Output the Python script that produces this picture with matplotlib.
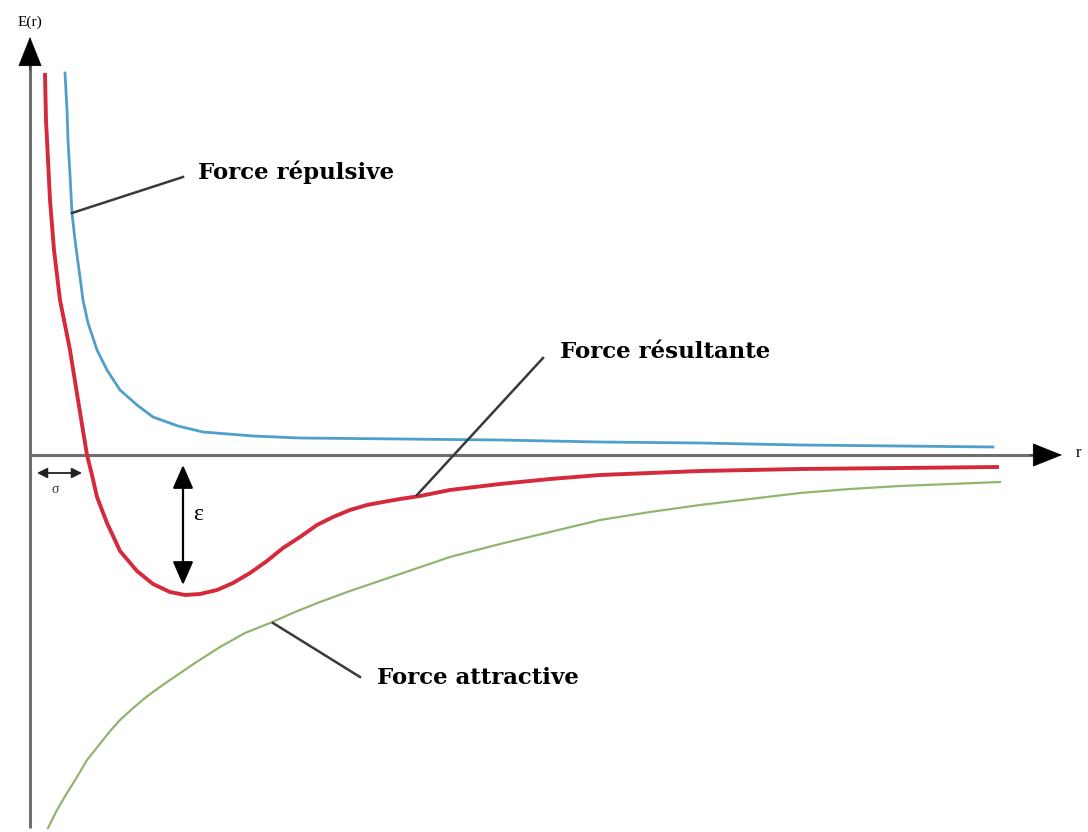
import numpy as np
import matplotlib.pyplot as plt

# courbes (unites arbitraires)
r_res = [0.15, 0.16, 0.18, 0.20, 0.24, 0.30, 0.40, 0.48, 0.57, 0.62, 0.67, 0.77, 0.90,
         1.07, 1.23, 1.40, 1.55, 1.70, 1.87, 2.03, 2.20, 2.37, 2.53, 2.70, 2.87, 3.03,
         3.20, 3.37, 3.53, 3.70, 3.90, 4.20, 4.70, 5.20, 5.70, 6.70, 7.70, 8.70, 9.67]
E_res = [3.80, 3.35, 2.95, 2.55, 2.05, 1.55, 1.05, 0.55, 0.00, -0.20, -0.42, -0.68, -0.96,
         -1.16, -1.29, -1.37, -1.40, -1.39, -1.35, -1.28, -1.18, -1.06, -0.93, -0.82, -0.70, -0.62,
         -0.55, -0.50, -0.47, -0.44, -0.41, -0.35, -0.29, -0.24, -0.20, -0.16, -0.14, -0.13, -0.12]

r_rep = [0.35, 0.37, 0.38, 0.40, 0.42, 0.45, 0.47, 0.50, 0.53, 0.58, 0.67, 0.77, 0.90,
         1.07, 1.23, 1.48, 1.73, 2.23, 2.70, 3.70, 4.70, 5.70, 6.70, 7.70, 8.70, 9.63]
E_rep = [3.82, 3.45, 3.15, 2.80, 2.42, 2.15, 2.00, 1.78, 1.55, 1.32, 1.05, 0.85, 0.65,
         0.50, 0.38, 0.29, 0.23, 0.19, 0.17, 0.16, 0.15, 0.13, 0.12, 0.10, 0.09, 0.08]

r_att = [0.18, 0.27, 0.37, 0.47, 0.57, 0.65, 0.73, 0.81, 0.90, 1.02, 1.15, 1.27, 1.40,
         1.65, 1.90, 2.15, 2.40, 2.65, 2.90, 3.20, 3.70, 4.20, 4.70, 5.20, 5.70, 6.20,
         6.70, 7.20, 7.70, 8.20, 8.70, 9.20, 9.70]
E_att = [-3.73, -3.55, -3.38, -3.22, -3.05, -2.95, -2.85, -2.75, -2.65, -2.54, -2.43, -2.34, -2.25,
         -2.08, -1.92, -1.78, -1.68, -1.57, -1.47, -1.36, -1.19, -1.02, -0.89, -0.77, -0.65, -0.57,
         -0.50, -0.44, -0.38, -0.34, -0.31, -0.29, -0.27]

# etiquettes et points d'accroche
labels = ["Force répulsive", "Force résultante", "Force attractive"]
leader_start = [(0.42, 2.42), (3.87, -0.40), (2.43, -1.68)]
leader_end = [(1.53, 2.78), (5.13, 0.97), (3.30, -2.22)]
label_pos = [(1.68, 2.83), (5.30, 1.03), (3.47, -2.23)]

sigma = 0.57
eps_r = 1.53
eps_min = -1.40

fig = plt.figure(figsize=(10.88, 8.32), dpi=100)
ax = fig.add_axes([0, 0, 1, 1])
ax.set_xlim(-0.30, 10.58)
ax.set_ylim(-3.77, 4.55)
ax.axis('off')

axis_col = '#6e6e6e'
# axes
ax.plot([0, 10.1], [0, 0], color=axis_col, lw=2.2, solid_capstyle='butt', zorder=1)
ax.plot([0, 0], [-3.73, 4.0], color=axis_col, lw=2.2, solid_capstyle='butt', zorder=1)
ax.annotate('', xy=(10.32, 0), xytext=(10.0, 0),
            arrowprops=dict(arrowstyle='-|>,head_length=1.0,head_width=0.4',
                            mutation_scale=20, color='black', lw=0.5, shrinkA=0, shrinkB=0))
ax.annotate('', xy=(0, 4.18), xytext=(0, 3.85),
            arrowprops=dict(arrowstyle='-|>,head_length=1.0,head_width=0.4',
                            mutation_scale=20, color='black', lw=0.5, shrinkA=0, shrinkB=0))
ax.text(0.0, 4.33, 'E(r)', family='Liberation Serif', fontsize=11, ha='center', va='center')
ax.text(10.48, 0.02, 'r', family='Liberation Serif', fontsize=12, ha='center', va='center')

# courbes
ax.plot(r_rep, E_rep, color='#4f9fcb', lw=2.0, zorder=3, solid_joinstyle='round')
ax.plot(r_att, E_att, color='#93b46e', lw=1.6, zorder=3, solid_joinstyle='round')
ax.plot(r_res, E_res, color='#d42a3c', lw=2.8, zorder=4, solid_joinstyle='round')

# sigma
ax.annotate('', xy=(0.07, -0.18), xytext=(0.52, -0.18),
            arrowprops=dict(arrowstyle='<|-|>,head_length=0.5,head_width=0.25',
                            mutation_scale=12, color='#222222', lw=1.3, shrinkA=0, shrinkB=0))
ax.text(0.25, -0.34, 'σ', family='Liberation Serif', fontsize=10, ha='center', va='center',
        color='#333333')

# epsilon
ax.annotate('', xy=(eps_r, -0.10), xytext=(eps_r, eps_min + 0.10),
            arrowprops=dict(arrowstyle='<|-|>,head_length=0.8,head_width=0.35',
                            mutation_scale=18, color='black', lw=1.6, shrinkA=0, shrinkB=0))
ax.text(eps_r + 0.15, -0.60, 'ε', family='Liberation Serif', fontsize=17, ha='center',
        va='center')

for lab, p0, p1, pos in zip(labels, leader_start, leader_end, label_pos):
    ax.plot([p0[0], p1[0]], [p0[1], p1[1]], color='#3a3a3a', lw=1.8, zorder=5)
    ax.text(pos[0], pos[1], lab, family='DejaVu Serif', fontweight='bold',
            fontsize=16.5, ha='left', va='center')

fig.savefig('out.png', dpi=100)
